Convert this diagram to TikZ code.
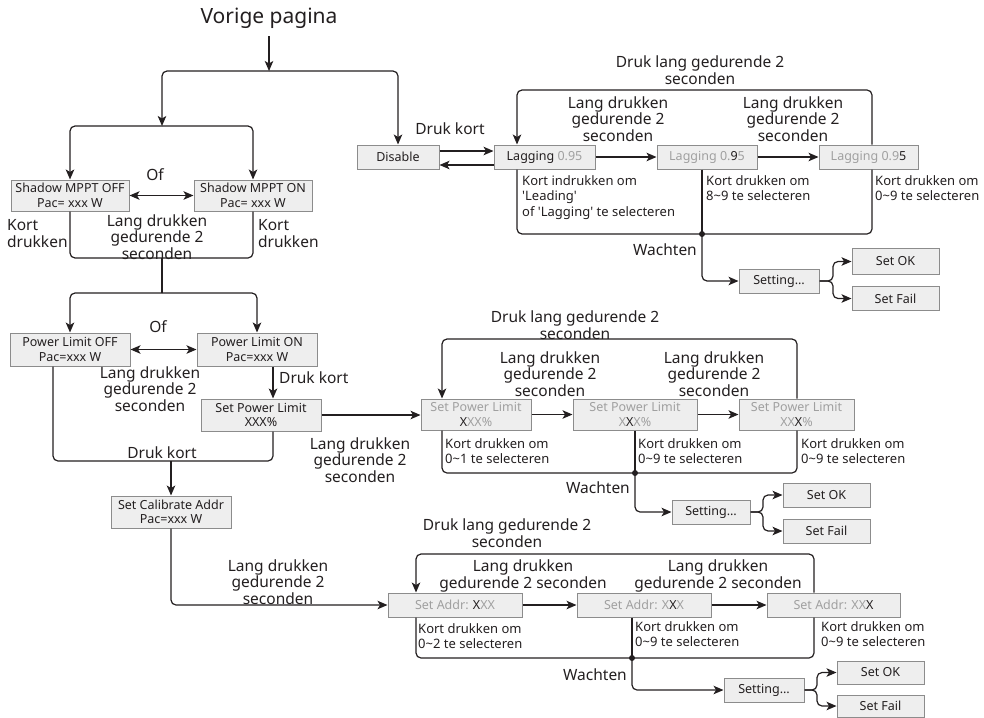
\documentclass[tikz,border=0pt]{standalone}
\usepackage{fontspec}
\setmainfont{Noto Sans}[Ligatures=TeXOff]
\usetikzlibrary{arrows.meta,calc}
\definecolor{ln}{HTML}{231F20}
\definecolor{bd}{HTML}{8C8C8C}
\definecolor{bf}{HTML}{EEEEEE}
\definecolor{gt}{HTML}{A0A0A0}
\newcommand\gr[1]{\textcolor{gt}{#1}}
\begin{document}
\begin{tikzpicture}[x=1pt,y=-1pt,
 line/.style={draw=ln, line width=1.2pt, rounded corners=5pt},
 arr/.style={line, -{Stealth[length=10pt,width=8.5pt,inset=2.5pt]}},
 darr/.style={line, {Stealth[length=10pt,width=8.5pt,inset=2.5pt]}-{Stealth[length=10pt,width=8.5pt,inset=2.5pt]}},
 box/.style={draw=bd, fill=bf, line width=1pt, inner sep=0pt, align=center, font=\fontsize{12.5}{14.5}\selectfont, text=ln},
 bx/.style 2 args={box, minimum width=#1, minimum height=#2},
 big/.style={font=\fontsize{15.5}{16.5}\selectfont, text=ln, align=center, inner sep=0pt},
 small/.style={font=\fontsize{13}{15.5}\selectfont, text=ln, align=left, inner sep=0pt, anchor=north west},
]
\useasboundingbox (0,0) rectangle (984,717);
% ---------- title
\node[font=\fontsize{21}{24}\selectfont, text=ln, inner sep=0pt] (title) at (269,18) {Vorige pagina};
\coordinate (sp0) at (269,71);
\coordinate (sp1) at (162,126);
\draw[arr, shorten <=8pt] (title.south) -- (sp0);

% ---------- Shadow MPPT
\node[bx={118pt}{31pt}] (shoff) at (70,195.5) {Shadow MPPT OFF\\Pac= xxx W};
\node[bx={118pt}{31pt}] (shon) at (253,195.5) {Shadow MPPT ON\\Pac= xxx W};
\draw[arr] (sp0) -| (sp1);
\draw[arr] (sp1) -| (shoff.north);
\draw[arr] (sp1) -| (shon.north);
\draw[darr] (shoff.east) -- (shon.west);
\node[big] (of1) at (155,175) {Of};
\node[big, anchor=west, align=left] (kd1) at (7,233.5) {Kort\\drukken};
\node[big, anchor=west, align=left] (kd2) at (258,233.5) {Kort\\drukken};
\node[big] (ld1) at (157,237) {Lang drukken\\gedurende 2\\seconden};
\coordinate (b1) at (162,258);
\coordinate (sp2) at (162,293);
\draw[line] (shoff.south) |- (b1) -| (shon.south);
\draw[line] (b1) -- (sp2);

% ---------- Power limit
\node[bx={120pt}{33pt}] (ploff) at (70,349.5) {Power Limit OFF\\Pac=xxx W};
\node[bx={120pt}{33pt}] (plon) at (257,349.5) {Power Limit ON\\Pac=xxx W};
\node[bx={120pt}{32pt}] (spl) at (261,415) {Set Power Limit\\XXX\%};
\draw[arr] (sp2) -| (ploff.north);
\draw[arr] (sp2) -| (plon.north);
\draw[darr] (ploff.east) -- (plon.west);
\node[big] (of2) at (158,327) {Of};
\node[big] (ld2) at (150,389) {Lang drukken\\gedurende 2\\seconden};
\draw[arr] ([xshift=16pt]plon.south) -- ([xshift=12pt]spl.north);
\node[big, anchor=west] (dk1) at (279,378) {Druk kort};
\coordinate (b2l) at (53,461);
\coordinate (b2r) at (273,461);
\coordinate (sp3) at (171,461);
\draw[line] (b2l |- ploff.south) -- (b2l) -- (b2r) -- (b2r |- spl.south);
\node[big] (dk2) at (162,453) {Druk kort};
\node[bx={120pt}{32pt}] (cal) at (171,512) {Set Calibrate Addr\\Pac=xxx W};
\draw[arr] (sp3) -- (cal.north);
\node[big] (ld3) at (360,460) {Lang drukken\\gedurende 2\\seconden};

% ---------- Lagging section
\node[bx={82pt}{24pt}] (dis) at (398,157) {Disable};
\node[bx={101pt}{24pt}] (lag1) at (544.5,157) {Lagging \gr{0.95}};
\node[bx={100pt}{24pt}] (lag2) at (707,157) {\gr{Lagging 0.}9\gr{5}};
\node[bx={99pt}{24pt}] (lag3) at (868.5,157) {\gr{Lagging 0.9}5};
\draw[arr] (sp0) -| (dis.north);
\draw[arr] ([yshift=6pt]dis.east) -- ([yshift=6pt]lag1.west);
\draw[arr] ([yshift=-8pt]lag1.west) -- ([yshift=-8pt]dis.east);
\node[big] (dk3) at (450,129) {Druk kort};
\draw[arr] (lag1) -- (lag2);
\draw[arr] (lag2) -- (lag3);
\coordinate (t1l) at (517,90);
\coordinate (t1r) at (872,90);
\coordinate (u1l) at (517,234);
\coordinate (u1r) at (872,234);
\coordinate (j1) at (702,234);
\draw[arr] (t1r |- lag3.north) -- (t1r) -- (t1l) -- (t1l |- lag1.north);
\draw[line] (u1l |- lag1.south) -- (u1l) -- (u1r) -- (u1r |- lag3.south);
\draw[line] (j1 |- lag2.south) -- (j1);
\fill[ln] (j1) circle (3pt);
\node[big] (dl1) at (700,70) {Druk lang gedurende 2\\seconden};
\node[big] (ld4) at (618,119) {Lang drukken\\gedurende 2\\seconden};
\node[big] (ld5) at (793,119) {Lang drukken\\gedurende 2\\seconden};
\node[small] (kt1) at (522,175) {Kort indrukken om\\'Leading'\\of 'Lagging' te selecteren};
\node[small] (kt2) at (706,175) {Kort drukken om\\8\string~9 te selecteren};
\node[small] (kt3) at (875,175) {Kort drukken om\\0\string~9 te selecteren};
\node[big, anchor=east] (w1) at (697,250) {Wachten};
\node[bx={80pt}{24pt}] (set1) at (779,281) {Setting…};
\node[bx={87pt}{26pt}] (ok1) at (895.5,261.5) {Set OK};
\node[bx={87pt}{24pt}] (fail1) at (895.5,298.5) {Set Fail};
\coordinate (k1) at (833,281);
\draw[arr] (j1) |- (set1.west);
\draw[arr] (set1.east) -- (k1) |- (ok1.west);
\draw[arr] (set1.east) -- (k1) |- (fail1.west);

% ---------- Set Power Limit section
\node[bx={110pt}{31pt}] (spl1) at (476,414.5) {\gr{Set Power Limit}\\X\gr{XX\%}};
\node[bx={124pt}{31pt}] (spl2) at (635,414.5) {\gr{Set Power Limit}\\\gr{X}X\gr{X\%}};
\node[bx={115pt}{31pt}] (spl3) at (796.5,414.5) {\gr{Set Power Limit}\\\gr{XX}X\gr{\%}};
\draw[arr] (spl) -- (spl1.west |- spl);
\draw[arr] (spl1) -- (spl2);
\draw[arr] (spl2) -- (spl3);
\coordinate (t2l) at (442,339);
\coordinate (t2r) at (797,339);
\coordinate (u2l) at (442,473);
\coordinate (u2r) at (797,473);
\coordinate (j2) at (635,473);
\draw[arr] (t2r |- spl3.north) -- (t2r) -- (t2l) -- (t2l |- spl1.north);
\draw[line] (u2l |- spl1.south) -- (u2l) -- (u2r) -- (u2r |- spl3.south);
\draw[line] (j2 |- spl2.south) -- (j2);
\fill[ln] (j2) circle (3pt);
\node[big] (dl2) at (575,325) {Druk lang gedurende 2\\seconden};
\node[big] (ld6) at (550,374) {Lang drukken\\gedurende 2\\seconden};
\node[big] (ld7) at (714,374) {Lang drukken\\gedurende 2\\seconden};
\node[small] (kt4) at (445,438) {Kort drukken om\\0\string~1 te selecteren};
\node[small] (kt5) at (638,438) {Kort drukken om\\0\string~9 te selecteren};
\node[small] (kt6) at (801,438) {Kort drukken om\\0\string~9 te selecteren};
\node[big, anchor=east] (w2) at (630,488) {Wachten};
\node[bx={78pt}{24pt}] (set2) at (711,512) {Setting…};
\node[bx={87pt}{24pt}] (ok2) at (826.5,495) {Set OK};
\node[bx={87pt}{24pt}] (fail2) at (826.5,531) {Set Fail};
\coordinate (k2) at (763,512);
\draw[arr] (j2) |- (set2.west);
\draw[arr] (set2.east) -- (k2) |- (ok2.west);
\draw[arr] (set2.east) -- (k2) |- (fail2.west);

% ---------- Set Addr section
\node[bx={134pt}{24pt}] (sa1) at (455,605) {\gr{Set Addr: }X\gr{XX}};
\node[bx={134pt}{24pt}] (sa2) at (644,605) {\gr{Set Addr: X}X\gr{X}};
\node[bx={133pt}{24pt}] (sa3) at (833.5,605) {\gr{Set Addr: XX}X};
\draw[arr] (cal.south) |- (sa1.west);
\draw[arr] (sa1) -- (sa2);
\draw[arr] (sa2) -- (sa3);
\node[big] (ld8) at (278,582) {Lang drukken\\gedurende 2\\seconden};
\coordinate (t3l) at (416,554);
\coordinate (t3r) at (814,554);
\coordinate (u3l) at (416,658);
\coordinate (u3r) at (814,658);
\coordinate (j3) at (632,658);
\draw[arr] (t3r |- sa3.north) -- (t3r) -- (t3l) -- (t3l |- sa1.north);
\draw[line] (u3l |- sa1.south) -- (u3l) -- (u3r) -- (u3r |- sa3.south);
\draw[line] (j3 |- sa2.south) -- (j3);
\fill[ln] (j3) circle (3pt);
\node[big] (dl3) at (507,533) {Druk lang gedurende 2\\seconden};
\node[big] (ld9) at (523,576) {Lang drukken\\gedurende 2 seconden};
\node[big] (ld10) at (718,576) {Lang drukken\\gedurende 2 seconden};
\node[small] (kt7) at (418,623) {Kort drukken om\\0\string~2 te selecteren};
\node[small] (kt8) at (635,621) {Kort drukken om\\0\string~9 te selecteren};
\node[small] (kt9) at (821,621) {Kort drukken om\\0\string~9 te selecteren};
\node[big, anchor=east] (w3) at (627,675) {Wachten};
\node[bx={80pt}{24pt}] (set3) at (764,690) {Setting…};
\node[bx={87pt}{23pt}] (ok3) at (880.5,672.5) {Set OK};
\node[bx={87pt}{22pt}] (fail3) at (880.5,706) {Set Fail};
\coordinate (k3) at (817,690);
\draw[arr] (j3) |- (set3.west);
\draw[arr] (set3.east) -- (k3) |- (ok3.west);
\draw[arr] (set3.east) -- (k3) |- (fail3.west);
\end{tikzpicture}
\end{document}
